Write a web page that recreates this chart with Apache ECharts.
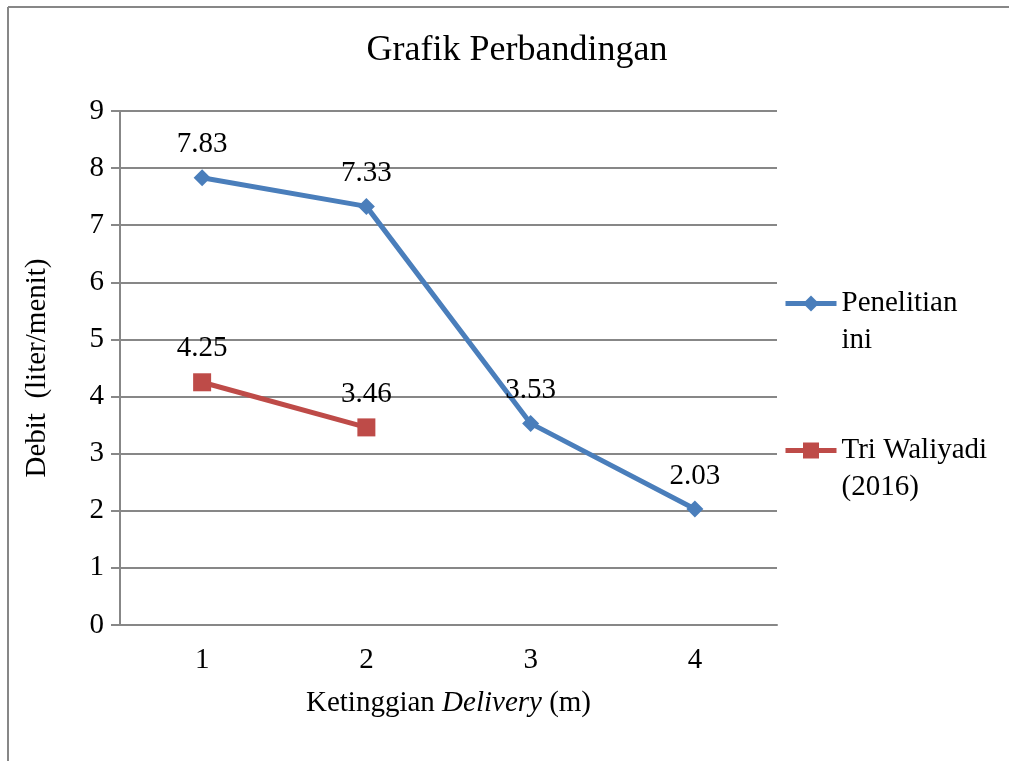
<!DOCTYPE html>
<html>
<head>
<meta charset="utf-8">
<script src="https://cdn.jsdelivr.net/npm/echarts@6/dist/echarts.min.js"></script>
<style>html,body{margin:0;padding:0;background:#fff;}#c{width:1009px;height:761px;}</style>
</head>
<body>
<div id="c"></div>
<script>
var categories = ['1', '2', '3', '4'];
var penelitianIni = [7.83, 7.33, 3.53, 2.03];
var triWaliyadi = [4.25, 3.46, null, null];
var yTicks = [0, 1, 2, 3, 4, 5, 6, 7, 8, 9];
var legendLabels = {'Penelitian ini': '\nPenelitian\nini', 'Tri Waliyadi (2016)': '\nTri Waliyadi\n(2016)'};

var FONT = '"Liberation Serif", "Times New Roman", serif';
var chart = echarts.init(document.getElementById('c'), null, {renderer: 'canvas'});
var option = {
  backgroundColor: '#fff',
  animation: false,
  title: {
    text: 'Grafik Perbandingan',
    left: 512, top: 28, textAlign: 'center',
    textStyle: {fontFamily: FONT, fontSize: 36, fontWeight: 'normal', color: '#000'}
  },
  legend: {
    orient: 'vertical',
    left: 778, top: 243,
    itemWidth: 51, itemHeight: 20,
    itemGap: 36,
    lineStyle: {width: 5},
    formatter: function (n) { return legendLabels[n]; },
    textStyle: {fontFamily: FONT, fontSize: 29, color: '#000', lineHeight: 37},
    data: ['Penelitian ini', 'Tri Waliyadi (2016)']
  },
  grid: {left: 120, right: 232, top: 111, bottom: 136},
  xAxis: {
    type: 'category',
    data: categories,
    boundaryGap: true,
    name: '{n|Ketinggian }{i|Delivery}{n| (m)}',
    nameLocation: 'middle',
    nameGap: 64,
    nameTextStyle: {
      rich: {
        n: {fontFamily: FONT, fontSize: 29, color: '#000'},
        i: {fontFamily: FONT, fontSize: 29, color: '#000', fontStyle: 'italic'}
      }
    },
    axisLine: {lineStyle: {color: '#878787', width: 2}},
    axisTick: {show: false},
    axisLabel: {fontFamily: FONT, fontSize: 29, color: '#000', margin: 21}
  },
  yAxis: {
    type: 'value',
    min: 0, max: 9, interval: 1,
    name: 'Debit  (liter/menit)',
    nameLocation: 'middle',
    nameGap: 68,
    nameTextStyle: {fontFamily: FONT, fontSize: 29, color: '#000'},
    axisLine: {show: true, lineStyle: {color: '#878787', width: 2}},
    axisTick: {show: true, length: 9, lineStyle: {color: '#878787', width: 2}},
    splitLine: {lineStyle: {color: '#878787', width: 2}},
    axisLabel: {fontFamily: FONT, fontSize: 29, color: '#000', margin: 16,
      formatter: function (v) { return yTicks.indexOf(v) >= 0 ? String(v) : ''; }}
  },
  series: [
    {
      name: 'Penelitian ini',
      type: 'line',
      data: penelitianIni,
      color: '#4a7ebb',
      lineStyle: {width: 5, color: '#4a7ebb'},
      symbol: 'diamond', symbolSize: 17,
      itemStyle: {color: '#4a7ebb'},
      label: {show: true, position: 'top', distance: 10, fontFamily: FONT, fontSize: 29, color: '#000'}
    },
    {
      name: 'Tri Waliyadi (2016)',
      type: 'line',
      data: triWaliyadi,
      color: '#be4b48',
      lineStyle: {width: 5, color: '#be4b48'},
      symbol: 'rect', symbolSize: 18,
      itemStyle: {color: '#be4b48'},
      label: {show: true, position: 'top', distance: 10, fontFamily: FONT, fontSize: 29, color: '#000'}
    }
  ],
  graphic: [
    {type: 'line', shape: {x1: 8, y1: 7, x2: 1009, y2: 7}, style: {stroke: '#878787', lineWidth: 2}},
    {type: 'line', shape: {x1: 8, y1: 7, x2: 8, y2: 761}, style: {stroke: '#878787', lineWidth: 2}}
  ]
};
chart.setOption(option);
</script>
</body>
</html>
